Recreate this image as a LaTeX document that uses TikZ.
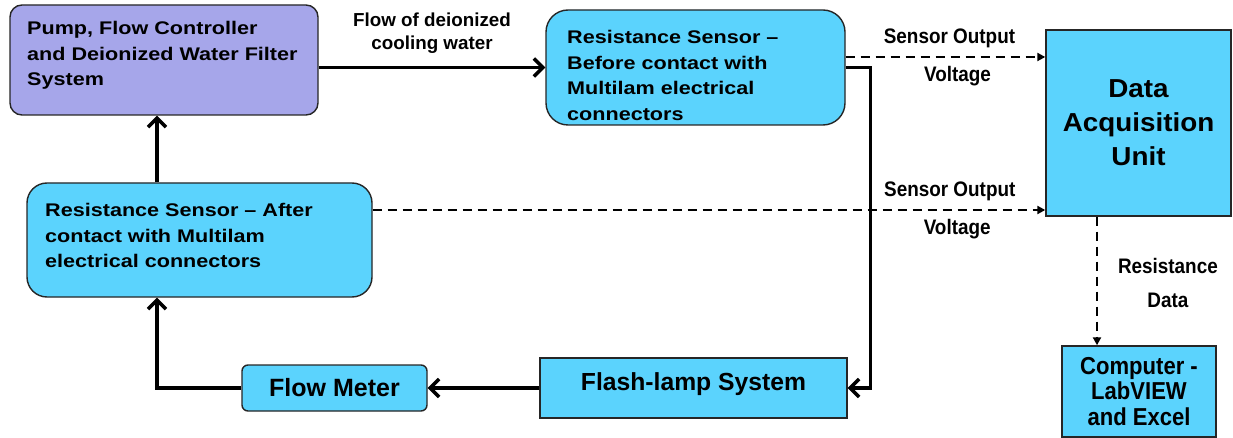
\documentclass[tikz,border=0pt]{standalone}
\usepackage{fontspec}
\setmainfont{Liberation Sans}
\newfontfamily\wideface{Liberation Sans}[FakeStretch=1.18]
\newfontfamily\narrowface{Liberation Sans}[FakeStretch=0.9]
\newfontfamily\daqface{Liberation Sans}[FakeStretch=1.07]
\usetikzlibrary{positioning, calc, arrows.meta}
\definecolor{pumpfill}{RGB}{166,166,234}
\definecolor{sensfill}{RGB}{91,211,253}

\tikzset{
  blockbox/.style={draw=black!85, line width=1.4pt, fill=sensfill, inner sep=0pt},
  boxtext/.style={anchor=north west, inner sep=0pt, align=left,
    font=\wideface\bfseries\fontsize{18.3}{25.5}\selectfont},
  flow/.style={line width=3.5pt, -{Straight Barb[length=9pt,width=18pt]}},
  signal/.style={line width=2pt, dash pattern=on 9pt off 6pt,
    -{Triangle[length=8pt,width=8pt]}},
  siglabel/.style={inner sep=0pt, font=\narrowface\bfseries\fontsize{21}{34}\selectfont},
}

\begin{document}
\begin{tikzpicture}[x=1pt, y=-1pt]
    \useasboundingbox (0,0) rectangle (1233,438);

    % Top row: pump unit and inlet sensor
    \node[blockbox, fill=pumpfill, rounded corners=12pt, minimum width=308pt, minimum height=110pt] (pump) at (164,60) {};
    \node[boxtext] (pump-txt) at (27,21.5) {Pump, Flow Controller\\and Deionized Water Filter\\System};

    \node[blockbox, rounded corners=22pt, minimum width=299pt, minimum height=115pt] (sens1) at (695.5,67.5) {};
    \node[boxtext] (sens1-txt) at (567,30.5) {Resistance Sensor –\\Before contact with\\Multilam electrical\\connectors};

    % Outlet sensor on the left
    \node[blockbox, rounded corners=20pt, minimum width=345pt, minimum height=114pt] (sens2) at (199.5,240) {};
    \node[boxtext] (sens2-txt) at (45,203.5) {Resistance Sensor – After\\contact with Multilam\\electrical connectors};

    % Bottom row
    \node[blockbox, minimum width=307pt, minimum height=60pt] (flash) at (693.5,388) {};
    \node[anchor=base, inner sep=0pt, font=\bfseries\fontsize{24.7}{30}\selectfont] (flash-txt) at (693.5,390.4) {Flash-lamp System};
    \node[blockbox, rounded corners=6pt, minimum width=185pt, minimum height=46pt,
          font=\bfseries\fontsize{25}{30}\selectfont] (flowm) at (334.5,388) {Flow Meter};

    % Measurement side
    \node[blockbox, minimum width=185pt, minimum height=186pt, align=center,
          font=\daqface\bfseries\fontsize{26}{34}\selectfont] (daq) at (1138.5,123) {Data\\Acquisition\\Unit};
    \node[blockbox, minimum width=154pt, minimum height=91pt, align=center,
          font=\narrowface\bfseries\fontsize{24.5}{25.5}\selectfont] (comp) at (1139,391.5) {Computer -\\LabVIEW\\and Excel};

    % Water loop
    \draw[flow] (pump.east |- sens1.west) -- node[above=12pt, inner sep=0pt, align=center,
          font=\bfseries\fontsize{18.8}{23}\selectfont] (water-lbl) {Flow of deionized\\cooling water} (sens1.west);
    \draw[flow] (sens1.east) -- ++(25,0) |- (flash.east);
    \draw[flow] (flash.west) -- (flash.west -| flowm.east);
    \draw[flow] (flowm.west) -| ([xshift=-42.5pt]sens2.south);
    \draw[flow] ([xshift=-42.5pt]sens2.north) -- ([xshift=-42.5pt]sens2.north |- pump.south);

    % Signal lines
    \draw[signal] ([yshift=10.5pt]sens1.east) -- ([yshift=10.5pt]sens1.east -| daq.west)
          node[siglabel, pos=0.52, above=8pt] (v1-top) {Sensor Output}
          node[siglabel, pos=0.56, below=8pt] (v1-bot) {Voltage};
    \draw[signal] ([yshift=30pt]sens2.east) -- ([yshift=30pt]sens2.east -| daq.west)
          node[siglabel, pos=0.858, above=8pt] (v2-top) {Sensor Output}
          node[siglabel, pos=0.869, below=8pt] (v2-bot) {Voltage};
    \draw[signal] ([xshift=-41.5pt]daq.south) -- ([xshift=-41.5pt]daq.south |- comp.north)
          node[siglabel, pos=0.515, right=20pt, align=center] (res-lbl) {Resistance\\Data};

\end{tikzpicture}
\end{document}
